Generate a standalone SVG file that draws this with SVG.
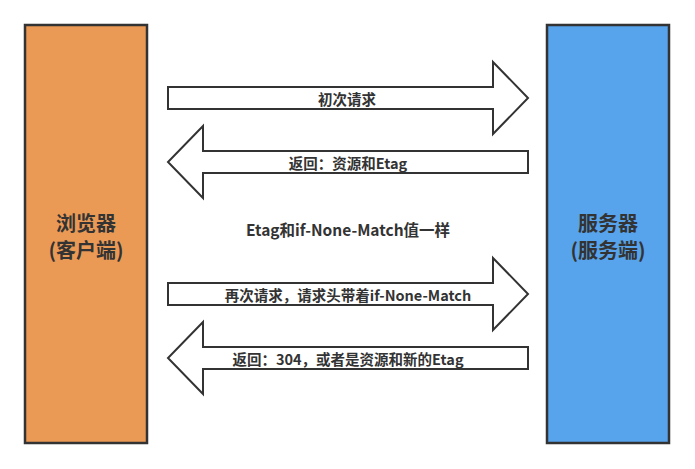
<svg xmlns="http://www.w3.org/2000/svg" width="695" height="469" viewBox="0 0 695 469">
<style>
text{font-family:"Noto Sans CJK SC","Liberation Sans",sans-serif;fill:#333;text-anchor:middle;dominant-baseline:central;font-weight:bold}
.box{stroke:#333;stroke-width:2.5}
.arr{fill:#fff;stroke:#333;stroke-width:2}
.lbl{font-size:14.5px}
.big{font-size:20px}
</style>
<rect width="695" height="469" fill="#fff"/>
<g id="browser">
<rect class="box" x="25" y="25" width="122" height="418" fill="#EB9A56"/>
<text class="big" x="86" y="222">浏览器</text>
<text class="big" x="86" y="249">(客户端)</text>
</g>
<g id="server">
<rect class="box" x="547" y="25" width="122" height="418" fill="#57A3EC"/>
<text class="big" x="608" y="222">服务器</text>
<text class="big" x="608" y="249">(服务端)</text>
</g>
<g id="connectors">
<g id="req1">
<polygon class="arr" points="168,87 493,87 493,62 528,98 493,134 493,109 168,109"/>
<text class="lbl" x="347" y="98">初次请求</text>
</g>
<g id="resp1">
<polygon class="arr" points="528,151 203,151 203,126 168,162 203,198 203,173 528,173"/>
<text class="lbl" x="348" y="162">返回：资源和Etag</text>
</g>
<g id="req2">
<polygon class="arr" points="168,283 493,283 493,258 528,294 493,330 493,305 168,305"/>
<text class="lbl" x="348" y="294">再次请求，请求头带着if-None-Match</text>
</g>
<g id="resp2">
<polygon class="arr" points="528,347 203,347 203,322 168,358 203,394 203,369 528,369"/>
<text class="lbl" x="348" y="358">返回：304，或者是资源和新的Etag</text>
</g>
</g>
<g id="note">
<text x="348" y="229" style="font-size:15.5px">Etag和if-None-Match值一样</text>
</g>
</svg>
